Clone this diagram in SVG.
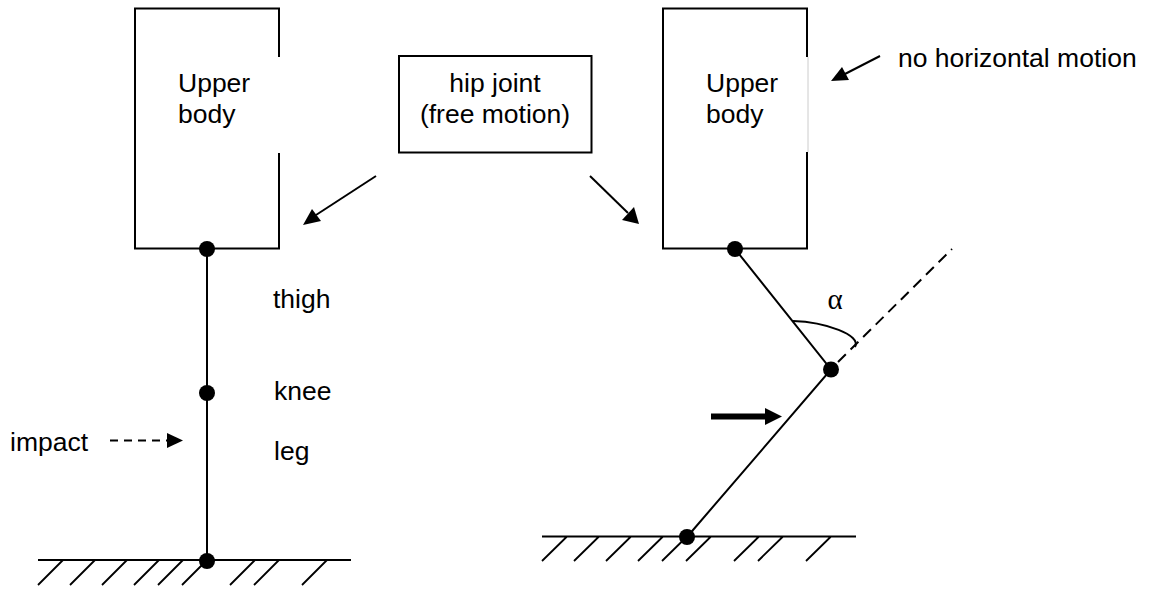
<svg xmlns="http://www.w3.org/2000/svg" width="1153" height="589" viewBox="0 0 1153 589">
<style>
text{font-family:"Liberation Sans",Arial,sans-serif;font-size:26.5px;fill:#000}
.c{text-anchor:middle}
.l{fill:none;stroke:#000;stroke-width:2}
.h{fill:none;stroke:#000;stroke-width:1.8}
.j{fill:#000}
.w{stroke:#fff;stroke-width:2.4;fill:none}
.g{stroke:#ccc;stroke-width:1;fill:none}
</style>
<rect width="1153" height="589" fill="#fff"/>
<g id="ground-left"><path class="h" d="M38 560H351M38 585L63 560M70 585L95 560M102 585L127 560M134 585L159 560M158 585L183 560M182 585L207 560M230 585L255 560M254 585L279 560M302 585L327 560"/></g>
<g id="ground-right"><path class="h" d="M542 536.500H856M542 561L567 536.500M574 561L599 536.500M606 561L631 536.500M638 561L663 536.500M662 561L687 536.500M686 561L711 536.500M734 561L759 536.500M758 561L783 536.500M806 561L831 536.500"/></g>
<g id="upper-body-left"><rect class="l" x="135" y="8.500" width="144" height="240"/><path class="w" d="M279 57V153"/><text x="178" y="92">Upper</text><text x="178" y="123">body</text></g>
<g id="upper-body-right"><rect class="l" x="663" y="8.500" width="144" height="240"/><path class="w" d="M807 57V152"/><path class="g" d="M808 57V152"/><text x="706" y="92">Upper</text><text x="706" y="123">body</text></g>
<g id="hip-joint"><rect class="l" x="399" y="56" width="192.500" height="96.500"/><text class="c" x="495" y="92">hip joint</text><text class="c" x="495" y="123">(free motion)</text></g>
<g id="connectors">
<path class="l" d="M207 249V561"/>
<path class="l" d="M735 249L831 369.500L687 537"/>
<path class="l" stroke-dasharray="11 6.700" d="M838 362L952 249"/>
<path class="l" d="M793 321C825 322 862 335 855 347"/>
<path class="l" d="M376 176L316 215"/>
<path d="M303 225L312 209L321 221Z"/>
<path class="l" d="M590 176L628 213"/>
<path d="M639 224L622 220L634 207Z"/>
<path class="l" d="M880 56L843 75"/>
<path d="M831 81L842 67L849 80Z"/>
<path class="l" stroke-dasharray="8 6" d="M110 440.500H168"/>
<path d="M167 433L183 440.500L167 448Z"/>
<path fill="none" stroke="#000" stroke-width="6" d="M711 416.500H768"/>
<path d="M765 408L782 416.500L765 425Z"/>
</g>
<g id="joints"><circle class="j" cx="207" cy="249" r="8"/><circle class="j" cx="207" cy="393" r="8"/><circle class="j" cx="207" cy="561" r="8"/><circle class="j" cx="735" cy="249" r="8"/><circle class="j" cx="831" cy="369.500" r="8"/><circle class="j" cx="687" cy="537" r="8"/></g>
<g id="labels">
<text x="273" y="308">thigh</text>
<text x="274" y="400">knee</text>
<text x="274" y="460">leg</text>
<text x="10" y="451">impact</text>
<text class="c" x="835" y="309" style="font-family:'Liberation Serif',serif;font-size:29px">α</text>
<text x="898" y="67">no horizontal motion</text>
</g>
</svg>
